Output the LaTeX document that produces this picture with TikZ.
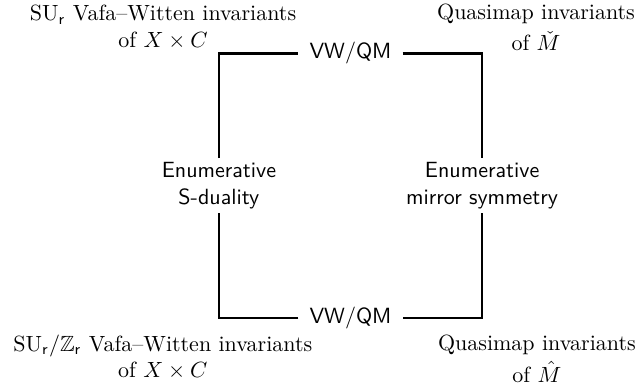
\documentclass[tikz,border=0pt]{standalone}
\usepackage{amsmath,amssymb}
\usepackage{tikz}
\tikzset{side/.style={font=\sffamily,align=center,fill=white,inner xsep=4.5pt,inner ysep=1.5pt},
	corner/.style={align=center,inner sep=0pt}}

\begin{document}
\begin{tikzpicture}[very thick]
\useasboundingbox (0pt,0pt) rectangle (289.5pt,-177.3pt);
\coordinate (tl) at (99.5pt,-24.3pt);
\coordinate (tr) at (219.1pt,-24.3pt);
\coordinate (bl) at (99.5pt,-144.5pt);
\coordinate (br) at (219.1pt,-144.5pt);
\path (tl) -- (tr) node (top) [midway,side] {VW/QM};
\path (bl) -- (br) node (bot) [midway,side] {VW/QM};
\path (tl) -- (bl) node (lft) [midway,side] {Enumerative\\S-duality};
\path (tr) -- (br) node (rgt) [midway,side] {Enumerative\\mirror symmetry};
\draw (lft) |- (top);
\draw (top) -| (rgt);
\draw (rgt) |- (bot);
\draw (bot) -| (lft);
\node (vw) [corner] at (74.1pt,-12.3pt) {$\mathrm{SU}_\mathsf{r}$ Vafa--Witten invariants\\of $X\times C$};
\node (qmc) [corner] at (243.6pt,-12.6pt) {Quasimap invariants\\[2pt]of $\check{M}$};
\node (vwz) [corner] at (74pt,-162.3pt) {$\mathrm{SU}_\mathsf{r}/\mathbb{Z}_\mathsf{r}$ Vafa--Witten invariants\\of $X\times C$};
\node (qmh) [corner] at (244pt,-163pt) {Quasimap invariants\\[2.5pt]of $\hat{M}$};
\end{tikzpicture}
\end{document}
